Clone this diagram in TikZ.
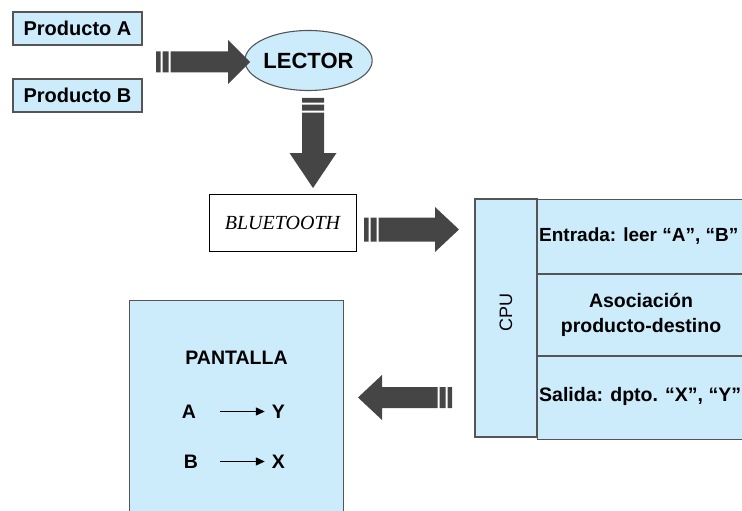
\documentclass[tikz,border=0pt]{standalone}
\usepackage{fontspec}
\setmainfont{Liberation Sans}
\newfontfamily\btfont{Liberation Serif}
\usetikzlibrary{shapes.geometric,arrows.meta}
\definecolor{boxblue}{HTML}{CCECFC}
\definecolor{boxedge}{HTML}{555555}
\definecolor{arrowgray}{HTML}{454545}
\newcommand\fsz[2]{\fontsize{#1}{#2}\selectfont}

\tikzset{
  % striped block arrow pointing along +x:
  % {total length}{head length}{shaft half width}{head half width}
  pics/bigarrow/.style n args={4}{code={
    \fill[arrowgray] (0,-#3) rectangle (4.5,#3) (6.5,-#3) rectangle (12.5,#3);
    \fill[arrowgray] (14.5,-#3) -- ({#1-#2},-#3) -- ({#1-#2},-#4) -- (#1,0)
      -- ({#1-#2},#4) -- ({#1-#2},#3) -- (14.5,#3) -- cycle;
  }},
  bluebox/.style={draw=boxedge, fill=boxblue, line width=1.1pt, inner sep=0pt},
  prodtxt/.style={font=\bfseries\fsz{20}{24}},
  cputxt/.style={font=\bfseries\fsz{19.5}{25}, inner sep=0pt, align=center},
  scrtxt/.style={font=\bfseries\fsz{19.5}{23}, inner sep=0pt},
  maparrow/.style={line width=1.3pt, -{Triangle[length=9pt,width=8pt]}}
}

\begin{document}
\begin{tikzpicture}[x=1pt,y=-1pt]
\useasboundingbox (0,0) rectangle (742,511);
\clip (0,0) rectangle (742,511);

% inputs and reader
\node[bluebox, prodtxt, minimum width=129, minimum height=33] (prodA) at (77.5,28.5) {Producto A};
\node[bluebox, prodtxt, minimum width=129, minimum height=33] (prodB) at (77.5,95.5) {Producto B};
\node[bluebox, ellipse, font=\bfseries\fsz{22}{26}, minimum width=98, minimum height=60] (lector) at (308.5,60.5) {LECTOR};

% wireless link
\node[draw=black, fill=white, line width=0.9pt, minimum width=147, minimum height=57,
      font=\btfont\itshape\fsz{20}{24}] (bt) at (282.5,222.5) {BLUETOOTH};

% processing unit
\node[bluebox, minimum width=62, minimum height=238] (cpu) at (506,318) {};
\node[font=\fsz{18}{22}, rotate=90, inner sep=0pt] (cpulbl) at ([yshift=6pt]cpu.center) {CPU};
\node[bluebox, minimum width=207, minimum height=74, anchor=north west] (rowin) at (537,199) {};
\node[bluebox, minimum width=207, minimum height=81, anchor=north west] (rowassoc) at (rowin.south west) {};
\node[bluebox, minimum width=207, minimum height=83, anchor=north west] (rowout) at (rowassoc.south west) {};
\node[cputxt, font=\bfseries\fsz{19}{25}, anchor=west] (tin) at ([xshift=2pt]rowin.west) {Entrada: leer “A”, “B”};
\node[cputxt] (tassoc) at (rowassoc.center) {Asociación\\producto-destino};
\node[cputxt, anchor=west] (tout) at ([xshift=2pt,yshift=2pt]rowout.west) {Salida: dpto. “X”, “Y”};

% display
\node[bluebox, minimum width=214, minimum height=240, anchor=north west] (pant) at (129,300) {};
\node[scrtxt] (ptitle) at (236.5,357.5) {PANTALLA};
\node[scrtxt] (ka) at (189,411.5) {A};
\node[scrtxt] (vy) at (278.5,411.5) {Y};
\node[scrtxt] (kb) at (191,461.5) {B};
\node[scrtxt] (vx) at (278.5,461.5) {X};
\draw[maparrow] ([xshift=24pt]ka.east) -- ([xshift=-7pt]vy.west);
\draw[maparrow] ([xshift=22pt]kb.east) -- ([xshift=-7pt]vx.west);

% block arrows
\pic at (156,62) {bigarrow={94}{22}{10.5}{22}};
\pic[rotate=-90] at (313,98) {bigarrow={90}{35}{11}{23.5}};
\pic at (364,229.5) {bigarrow={95}{24}{12}{22.5}};
\pic[rotate=180] at (452,397.5) {bigarrow={94}{24}{10.5}{22.5}};
\end{tikzpicture}
\end{document}
